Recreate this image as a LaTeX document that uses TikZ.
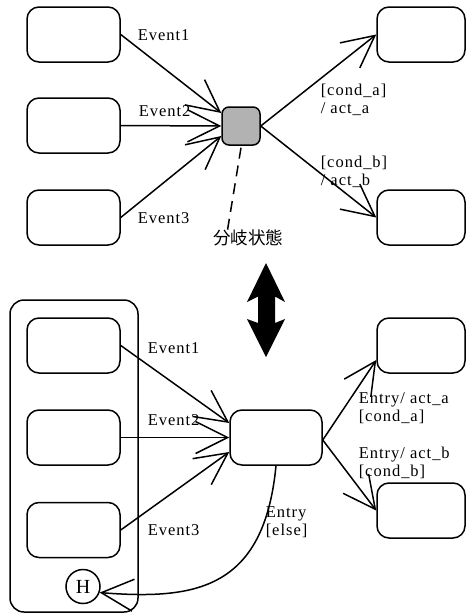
\documentclass[tikz,border=0pt]{standalone}
\usepackage{fontspec}
\setmainfont{Liberation Serif}[LetterSpace=6]
\newfontfamily\cjk{Noto Sans CJK JP}
\usetikzlibrary{arrows.meta,calc}
\begin{document}
\begin{tikzpicture}[x=1pt,y=-1pt,
  line width=1.5pt,
  state/.style={draw,rounded corners=12pt,inner sep=0pt,minimum width=93pt,minimum height=55pt},
  rstate/.style={state,minimum width=88pt},
  branch/.style={draw,fill=black!30,rounded corners=7pt,inner sep=0pt,minimum size=38pt},
  superstate/.style={draw,rounded corners=14pt,inner sep=0pt,minimum width=128pt,minimum height=312pt},
  hist/.style={draw,circle,inner sep=0pt,minimum size=34pt,font=\fontsize{20}{20}\selectfont},
  arr/.style={-{Straight Barb[length=32pt,width=32pt]}},
  lbl/.style={anchor=west,inner sep=0pt,align=left,font=\fontsize{16.5}{18}\selectfont},
  guide/.style={dashed,dash pattern=on 11pt off 7pt}
]
\useasboundingbox (0,0) rectangle (466,614);

% ---- upper diagram: branch pseudo-state ----
\node[state] (a1) at (73.5,34.5) {};
\node[state] (a2) at (73.5,125.5) {};
\node[state] (a3) at (73.5,217.5) {};
\node[branch] (g) at (241,126) {};
\node[rstate] (r1) at (421,34.5) {};
\node[rstate] (r2) at (421,217.5) {};

\draw[arr] (a1.east) -- ([yshift=13pt]g.west);
\draw[arr] (a2.east) -- (g.west);
\draw[arr] (a3.east) -- ([yshift=-10pt]g.west);
\draw[arr] (g.east) -- (r1.west);
\draw[arr] (g.east) -- (r2.west);

\node[lbl] at (137,35) {Event1};
\node[lbl] at (138,111) {Event2};
\node[lbl] at (137,218) {Event3};
\node[lbl] at (320,99.5) {{[}cond\_a]\\/ act\_a};
\node[lbl] at (320,172) {{[}cond\_b]\\/ act\_b};

\node[inner sep=0pt,font=\cjk\fontsize{17.5}{18}\selectfont] (cjk) at (248,238) {分岐状態};
\draw[guide] ([yshift=-2pt]g.south) -- ([xshift=-21pt,yshift=-4pt]cjk.north);

% ---- double arrow between the two forms ----
\fill (266,263) -- (285,302) -- (275,296.5) -- (275,323) -- (285,319) -- (266,357)
  -- (247,319) -- (258,323) -- (258,296.5) -- (247,302) -- cycle;

% ---- lower diagram: entry conditions with history ----
\node[superstate] (sup) at (74,456) {};
\node[state] (b1) at (73.5,345.5) {};
\node[state] (b2) at (73.5,437.5) {};
\node[state] (b3) at (73.5,530) {};
\node[hist] (h) at (83,586.5) {H};
\node[state,minimum width=92pt] (m) at (276,437.5) {};
\node[rstate] (s1) at (421,345.5) {};
\node[rstate] (s2) at (421,510.5) {};

\draw[arr] (b1.east) -- ([yshift=14.5pt]m.west);
\draw[arr] (b2.east) -- (m.west);
\draw[arr] (b3.east) -- ([yshift=-14.5pt]m.west);
\draw[arr] ([yshift=-2.5pt]m.east) -- ([yshift=-14.5pt]s1.west);
\draw[arr] ([yshift=-2.5pt]m.east) -- (s2.west);
\draw[arr] (m.south) .. controls (264,590) and (195,600) .. (h.-20);

\node[lbl] at (147,348) {Event1};
\node[lbl] at (147,420) {Event2};
\node[lbl] at (147,530) {Event3};
\node[lbl] at (265,522.5) {Entry\\{[}else]};
\node[lbl] at (358,408) {Entry/ act\_a\\{[}cond\_a]};
\node[lbl] at (358,463) {Entry/ act\_b\\{[}cond\_b]};
\end{tikzpicture}
\end{document}
